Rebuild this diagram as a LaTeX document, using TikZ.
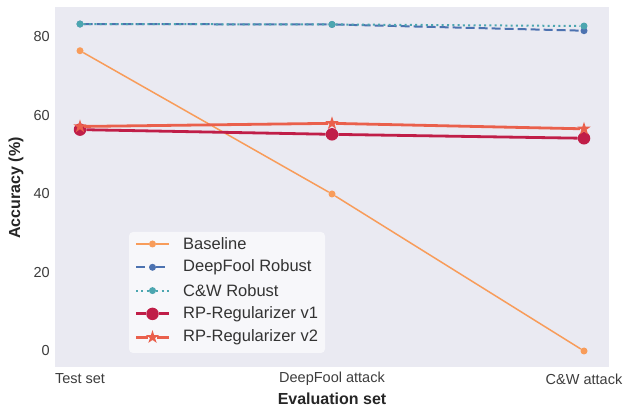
\documentclass[tikz,border=0pt]{standalone}
\usepackage{fontspec}
\setmainfont{Liberation Sans}
\usetikzlibrary{shapes.geometric}

\definecolor{panel}{RGB}{234,234,242}
\definecolor{legendbg}{RGB}{247,247,250}
\definecolor{ticktext}{RGB}{60,60,60}
\definecolor{baseorange}{RGB}{248,156,90}
\definecolor{dfblue}{RGB}{76,114,176}
\definecolor{cwteal}{RGB}{76,166,176}
\definecolor{rpone}{RGB}{192,30,72}
\definecolor{rptwo}{RGB}{234,96,76}

\begin{document}
\begin{tikzpicture}[
                    x=1pt, y=1pt,
                    ticklabel/.style={
                        text=ticktext,
                        inner sep=0pt,
                        font=\fontsize{14.5}{16}\selectfont
                    },
                    axislabel/.style={
                        text=black!85,
                        inner sep=0pt,
                        font=\fontsize{16}{18}\selectfont\bfseries
                    },
                    entry/.style={
                        text=black!80,
                        anchor=west,
                        inner sep=0pt,
                        font=\fontsize{16.5}{18}\selectfont
                    },
                    dot/.style={circle, inner sep=0pt, minimum size=7pt},
                    bigdot/.style={circle, inner sep=0pt, minimum size=12.5pt},
                    starmark/.style={star, star points=5, star point ratio=2.6,
                        inner sep=0pt, minimum size=14pt},
                    baseplot/.style={draw=baseorange, line width=1.5pt},
                    dfplot/.style={draw=dfblue, line width=2pt, dash pattern=on 9pt off 4pt},
                    cwplot/.style={draw=cwteal, line width=2pt, dash pattern=on 2pt off 3.3pt},
                    rponeplot/.style={draw=rpone, line width=2.8pt},
                    rptwoplot/.style={draw=rptwo, line width=2.8pt}
                ]

                    \useasboundingbox (0,0) rectangle (624,412);
                    \fill[panel] (55,45) rectangle (609,405);

                    % Axis ticks
                    \node[ticklabel, anchor=east] (y0) at (50,61) {0};
                    \node[ticklabel, anchor=east] (y20) at (50,139.5) {20};
                    \node[ticklabel, anchor=east] (y40) at (50,218) {40};
                    \node[ticklabel, anchor=east] (y60) at (50,296.5) {60};
                    \node[ticklabel, anchor=east] (y80) at (50,375) {80};
                    \node[ticklabel] (xtest) at (80,33) {Test set};
                    \node[ticklabel] (xdf) at (332,33) {DeepFool attack};
                    \node[ticklabel] (xcw) at (584,33) {C\&W attack};
                    \node[axislabel] (xlab) at (332,13) {Evaluation set};
                    \node[axislabel, rotate=90] (ylab) at (16,224) {Accuracy (\%)};

                    % Curves, x = 80 + 252 i, y = 61 + 3.925 acc
                    \begin{scope}[shift={(80,61)}, x=252pt, y=3.925pt]
                    \node[dot, fill=baseorange] (b0) at (0,76.5) {};
                    \node[dot, fill=baseorange] (b1) at (1,40.0) {};
                    \node[dot, fill=baseorange] (b2) at (2,0.0) {};
                    \draw[baseplot] (b0) -- (b1) -- (b2);

                    \node[dot, fill=dfblue] (d0) at (0,83.3) {};
                    \node[dot, fill=dfblue] (d1) at (1,83.2) {};
                    \node[dot, fill=dfblue] (d2) at (2,81.6) {};
                    \draw[dfplot] (d0) -- (d1) -- (d2);

                    \node[dot, fill=cwteal] (c0) at (0,83.3) {};
                    \node[dot, fill=cwteal] (c1) at (1,83.2) {};
                    \node[dot, fill=cwteal] (c2) at (2,82.8) {};
                    \draw[cwplot] (c0) -- (c1) -- (c2);

                    \node[bigdot, fill=rpone] (r0) at (0,56.4) {};
                    \node[bigdot, fill=rpone] (r1) at (1,55.2) {};
                    \node[bigdot, fill=rpone] (r2) at (2,54.2) {};
                    \draw[rponeplot] (r0) -- (r1) -- (r2);

                    \node[starmark, fill=rptwo] (s0) at (0,57.2) {};
                    \node[starmark, fill=rptwo] (s1) at (1,58.0) {};
                    \node[starmark, fill=rptwo] (s2) at (2,56.6) {};
                    \draw[rptwoplot] (s0) -- (s1) -- (s2);
                    \end{scope}

                    % Legend
                    \fill[legendbg, rounded corners=4pt] (129,59) rectangle (325,180);

                    \coordinate (k1a) at (136,168);
                    \coordinate (k1b) at (169,168);
                    \node[dot, fill=baseorange] (k1) at (152.5,168) {};
                    \draw[baseplot] (k1a) -- (k1) -- (k1b);
                    \node[entry] (e1) at (183,168) {Baseline};

                    \coordinate (k2a) at (136,144.7);
                    \coordinate (k2b) at (169,144.7);
                    \node[dot, fill=dfblue] (k2) at (152.5,144.7) {};
                    \draw[dfplot] (k2a) -- (k2) -- (k2b);
                    \node[entry] (e2) at (183,144.7) {DeepFool Robust};

                    \coordinate (k3a) at (136,121.4);
                    \coordinate (k3b) at (169,121.4);
                    \node[dot, fill=cwteal] (k3) at (152.5,121.4) {};
                    \draw[cwplot] (k3a) -- (k3) -- (k3b);
                    \node[entry] (e3) at (183,121.4) {C\&W Robust};

                    \coordinate (k4a) at (136,98.1);
                    \coordinate (k4b) at (169,98.1);
                    \node[bigdot, fill=rpone] (k4) at (152.5,98.1) {};
                    \draw[rponeplot] (k4a) -- (k4) -- (k4b);
                    \node[entry] (e4) at (183,98.1) {RP-Regularizer v1};

                    \coordinate (k5a) at (136,74.8);
                    \coordinate (k5b) at (169,74.8);
                    \node[starmark, fill=rptwo] (k5) at (152.5,74.8) {};
                    \draw[rptwoplot] (k5a) -- (k5) -- (k5b);
                    \node[entry] (e5) at (183,74.8) {RP-Regularizer v2};
                \end{tikzpicture}
\end{document}
